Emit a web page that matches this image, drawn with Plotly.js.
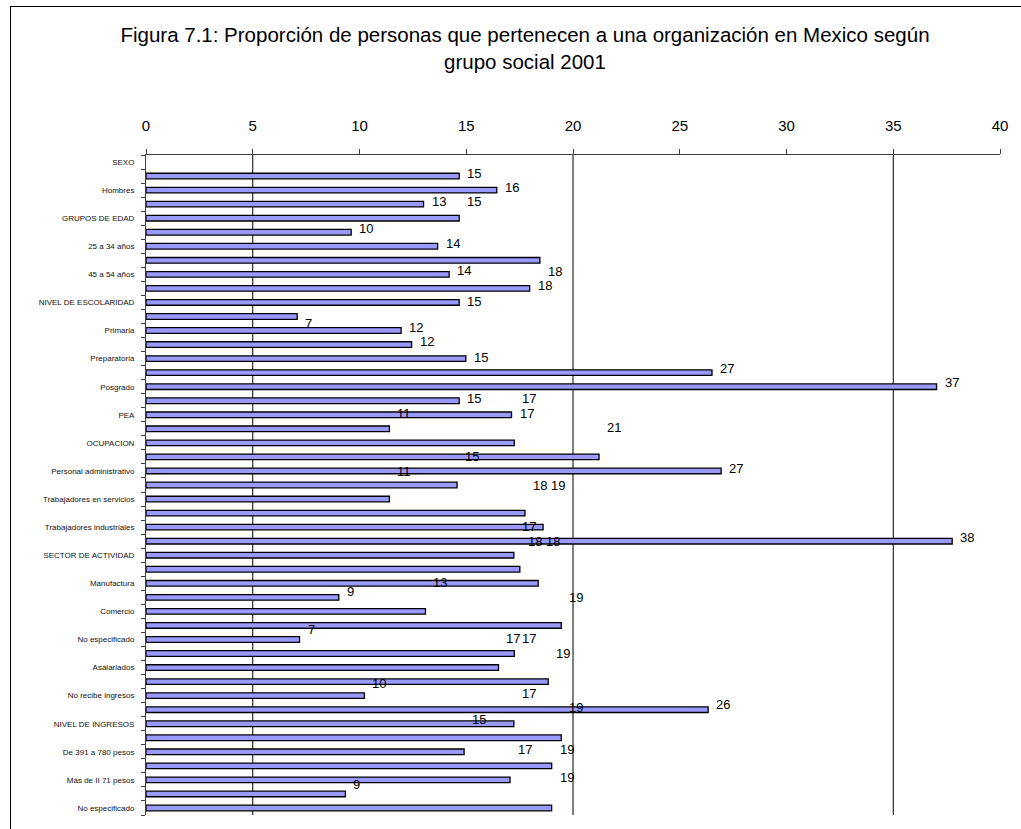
<!DOCTYPE html>
<html>
<head>
<meta charset="utf-8">
<script src="https://cdn.plot.ly/plotly-3.0.1.min.js"></script>
<style>
  html, body { margin: 0; padding: 0; background: #ffffff; overflow: hidden; }
  #wrap { position: relative; width: 1021px; height: 829px; overflow: hidden; }
  #chart { width: 1021px; height: 829px; }
  /* chart frame: only its left and top edges fall inside the page */
  #frame {
    position: absolute; left: 10px; top: 6px; width: 1100px; height: 900px;
    border-left: 1px solid #000000; border-top: 1px solid #000000;
    pointer-events: none;
  }
</style>
</head>
<body>
<div id="wrap">
  <div id="chart"></div>
  <div id="frame"></div>
</div>
<script>
// Row labels, top to bottom (only every other row carries a visible label)
const rowLabels = [
  "SEXO", "", "Hombres", "", "GRUPOS DE EDAD", "", "25 a 34 años", "",
  "45 a 54 años", "", "NIVEL DE ESCOLARIDAD", "", "Primaria", "", "Preparatoria", "",
  "Posgrado", "", "PEA", "", "OCUPACION", "", "Personal administrativo", "",
  "Trabajadores en servicios", "", "Trabajadores industriales", "", "SECTOR DE ACTIVIDAD", "",
  "Manufactura", "", "Comercio", "", "No especificado", "", "Asalariados", "",
  "No recibe ingresos", "", "NIVEL DE INGRESOS", "", "De 391 a 780 pesos", "",
  "Más de II 71 pesos", "", "No especificado"
];

// Percentage of people belonging to an organisation, one value per row
const values = [
  null, 14.67, 16.43, 13.0, 14.67, 9.61, 13.66, 18.45, 14.2, 17.97,
  14.67, 7.08, 11.95, 12.44, 14.98, 26.51, 37.03, 14.67, 17.12, 11.4,
  17.25, 21.22, 26.94, 14.57, 11.4, 17.75, 18.6, 37.76, 17.23, 17.51,
  18.37, 9.03, 13.09, 19.45, 7.19, 17.25, 16.51, 18.84, 10.23, 26.33,
  17.23, 19.45, 14.9, 19.0, 17.05, 9.34, 19.0
];

// Row (vertical slot) where each bar's value label sits
const labelRow = [
  null, 1.81, 2.80, 3.80, 3.80, 5.72, 6.79, 8.83, 8.76, 9.82,
  10.91, 12.48, 12.78, 13.81, 14.90, 15.68, 16.72, 17.81, 18.88, 18.88,
  17.81, 19.92, 22.79, 21.94, 23.07, 24.0, 24.0, 27.77, 26.99, 28.05,
  28.05, 31.59, 30.97, 32.04, 34.27, 34.91, 34.91, 35.98, 38.14, 39.63,
  38.85, 39.85, 40.70, 42.83, 42.83, 45.32, 44.83
];

const xTicks = [0, 5, 10, 15, 20, 25, 30, 35, 40];
const gridValues = [5, 20, 35];

const FONT = "Liberation Sans, Arial, Helvetica, sans-serif";
const rows = rowLabels.map((_, i) => i + 1);
const labeledRows = rows.filter((r, i) => rowLabels[i] !== "");
const labeledText = rowLabels.filter(t => t !== "");

const bars = {
  type: "bar",
  orientation: "h",
  x: values,
  y: rows,
  width: 0.4,
  marker: { color: "#9999FF", line: { color: "#000000", width: 1.3 } },
  hoverinfo: "none"
};

const annotations = [];
values.forEach((v, i) => {
  if (v === null) return;
  annotations.push({
    x: v, y: labelRow[i], xref: "x", yref: "y",
    text: String(Math.round(v)),
    showarrow: false, xanchor: "left", yanchor: "middle", xshift: 6,
    font: { family: FONT, size: 13, color: "#000000" }
  });
});

// vertical gridlines at the chosen values
const shapes = gridValues.map(g => ({
  type: "line", xref: "x", yref: "paper",
  x0: g, x1: g, y0: 0, y1: 1,
  line: { color: "#000000", width: 1 },
  layer: "below"
}));

const layout = {
  width: 1021,
  height: 829,
  margin: { l: 146, r: 21, t: 155, b: 14 },
  paper_bgcolor: "#ffffff",
  plot_bgcolor: "#ffffff",
  font: { family: FONT, color: "#000000" },
  showlegend: false,
  title: {
    text: "Figura 7.1: Proporción de personas que pertenecen a una organización en Mexico según<br>grupo social 2001",
    font: { family: FONT, size: 20.5, color: "#000000" },
    xref: "container", x: 525 / 1021, xanchor: "center",
    yref: "container", y: 0.949, yanchor: "top"
  },
  xaxis: {
    side: "top",
    range: [0, 40],
    tickmode: "array",
    tickvals: xTicks,
    ticks: "outside", ticklen: 5, tickwidth: 1, tickcolor: "#404040",
    showline: true, linecolor: "#404040", linewidth: 1,
    showgrid: false, zeroline: false,
    tickfont: { family: FONT, size: 15, color: "#000000" },
    ticklabelstandoff: 12,
    fixedrange: true
  },
  yaxis: {
    range: [47.5, 0.5],
    tickmode: "array",
    tickvals: labeledRows,
    ticktext: labeledText,
    ticks: "",
    showline: true, linecolor: "#404040", linewidth: 1,
    showgrid: false, zeroline: false,
    tickfont: { family: FONT, size: 8, color: "#111111" },
    ticklabelstandoff: 9,
    minor: {
      tickmode: "linear", tick0: 0.5, dtick: 1,
      ticks: "outside", ticklen: 4, tickwidth: 1, tickcolor: "#404040",
      showgrid: false
    },
    fixedrange: true
  },
  bargap: 0,
  annotations: annotations,
  shapes: shapes
};

Plotly.newPlot("chart", [bars], layout, { displayModeBar: false, staticPlot: true });
</script>
</body>
</html>
